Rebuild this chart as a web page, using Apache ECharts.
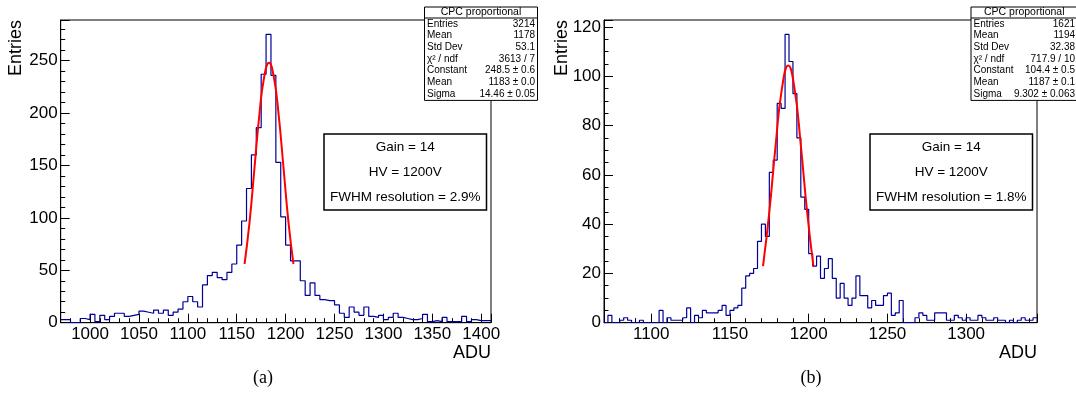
<!DOCTYPE html>
<html>
<head>
<meta charset="utf-8">
<script src="https://cdn.jsdelivr.net/npm/echarts@6/dist/echarts.min.js"></script>
<style>
html, body { margin: 0; padding: 0; background: #fff; }
#chart { width: 1076px; height: 412px; }
</style>
</head>
<body>
<div id="chart"></div>
<script>
const FONT = 'Liberation Sans';

// panel (a): 5 ADU bins starting at 970
const binStartA = 970;
const binWidthA = 5;
const countsA = [
    3, 3, 0, 0, 4, 3, 8, 1, 7, 3,
    6, 9, 9, 6, 7, 8, 11, 10, 9, 12,
    9, 12, 7, 10, 13, 20, 25, 20, 15, 36,
    45, 48, 43, 41, 48, 56, 74, 97, 128, 160,
    186, 237, 275, 236, 153, 101, 74, 59, 59, 40,
    26, 38, 26, 22, 21, 21, 17, 9, 5, 15,
    10, 7, 15, 6, 5, 7, 3, 5, 9, 5,
    4, 3, 3, 4, 8, 1, 2, 1, 5, 1,
    1, 1, 6, 1, 3, 2, 2, 2
];
// red fit curve
const fitXA = [1158, 1163, 1168, 1173, 1178, 1183, 1188, 1193, 1198, 1203, 1208];
const fitYA = [56, 95, 146, 197, 234, 248, 234, 197, 146, 95, 56];

// panel (b): 2.5 ADU bins starting at 1070
const binStartB = 1070;
const binWidthB = 2.5;
const countsB = [
    0, 3, 0, 0, 1, 2, 1, 0, 0, 1,
    0, 0, 0, 0, 5, 0, 2, 1, 1, 1,
    2, 6, 0, 3, 2, 5, 4, 4, 4, 5,
    7, 3, 5, 6, 7, 14, 19, 20, 22, 33,
    40, 35, 61, 66, 89, 87, 117, 106, 93, 75,
    51, 46, 28, 23, 27, 18, 22, 26, 18, 10,
    16, 10, 7, 10, 19, 11, 11, 6, 9, 7,
    7, 11, 12, 3, 4, 9, 0, 0, 0, 2,
    4, 3, 1, 1, 4, 4, 4, 1, 1, 3,
    2, 1, 2, 1, 1, 3, 2, 1, 1, 2,
    1, 1, 0, 1, 0, 1, 2, 1, 1, 2
];
const fitXB = [1171, 1175, 1179, 1183, 1187, 1191, 1195, 1199, 1203];
const fitYB = [23, 45, 72, 95, 104.4, 95, 72, 45, 23];

const statLabels = ['Entries', 'Mean', 'Std Dev', 'χ² / ndf', 'Constant', 'Mean', 'Sigma'];
const statsA = ['3214', '1178', '53.1', '3613 / 7', '248.5 ± 0.6', '1183 ± 0.0', '14.46 ± 0.05'];
const statsB = ['1621', '1194', '32.38', '717.9 / 10', '104.4 ± 0.5', '1187 ± 0.1', '9.302 ± 0.063'];
const infoA = ['Gain = 14', 'HV = 1200V', 'FWHM resolution = 2.9%'];
const infoB = ['Gain = 14', 'HV = 1200V', 'FWHM resolution = 1.8%'];

function histPoints(start, width, counts) {
    const pts = counts.map((c, i) => [start + i * width, c]);
    pts.push([start + counts.length * width, counts[counts.length - 1]]);
    return pts;
}

function xAxisCfg(gridIndex, min, max, splitNumber) {
    return {
        type: 'value', gridIndex: gridIndex, min: min, max: max, splitNumber: splitNumber,
        name: 'ADU', nameLocation: 'end', nameGap: 0,
        nameTextStyle: { color: '#000', fontSize: 18, fontFamily: FONT, align: 'right', verticalAlign: 'top', padding: [21, 0, 0, 0] },
        axisLine: { show: true, lineStyle: { color: '#000', width: 1 } },
        axisTick: { inside: true, length: 9, lineStyle: { color: '#000' } },
        minorTick: { show: true, splitNumber: 5, length: 4.5, lineStyle: { color: '#000' } },
        axisLabel: { color: '#000', fontSize: 17, fontFamily: FONT, margin: 3, showMinLabel: false, showMaxLabel: false,
            formatter: v => String(v) },
        splitLine: { show: false }
    };
}

function yAxisCfg(gridIndex, max, interval, minorSplit) {
    return {
        type: 'value', gridIndex: gridIndex, min: 0, max: max, interval: interval,
        axisLine: { show: true, lineStyle: { color: '#000', width: 1 } },
        axisTick: { inside: true, length: 9, lineStyle: { color: '#000' } },
        minorTick: { show: true, splitNumber: minorSplit, length: 4.5, lineStyle: { color: '#000' } },
        axisLabel: { color: '#000', fontSize: 17, fontFamily: FONT, margin: 3, showMaxLabel: false,
            formatter: v => String(v) },
        splitLine: { show: false }
    };
}

function statsBox(x, y, w, labels, values) {
    const rowH = 11.7;
    const els = [
        { type: 'rect', shape: { x: x, y: y, width: w, height: 11 + rowH * 7 + 0.5 },
          style: { fill: '#fff', stroke: '#000', lineWidth: 1 } },
        { type: 'line', shape: { x1: x, y1: y + 11, x2: x + w, y2: y + 11 },
          style: { stroke: '#000', lineWidth: 1 } },
        { type: 'text', x: x + w / 2, y: y + 5.5,
          style: { text: 'CPC proportional', fill: '#000', font: '10.5px ' + FONT, align: 'center', verticalAlign: 'middle' } }
    ];
    labels.forEach((lab, i) => {
        const cy = y + 11 + rowH * (i + 0.5);
        els.push({ type: 'text', x: x + 2.5, y: cy,
            style: { text: lab, fill: '#000', font: '10px ' + FONT, align: 'left', verticalAlign: 'middle' } });
        els.push({ type: 'text', x: x + w - 2.5, y: cy,
            style: { text: values[i], fill: '#000', font: '10px ' + FONT, align: 'right', verticalAlign: 'middle' } });
    });
    return els;
}

function infoBox(x, y, w, h, lines) {
    const els = [
        { type: 'rect', shape: { x: x, y: y, width: w, height: h },
          style: { fill: '#fff', stroke: '#000', lineWidth: 1.5 } }
    ];
    lines.forEach((t, i) => {
        els.push({ type: 'text', x: x + w / 2, y: y + 13.5 + i * 25,
            style: { text: t, fill: '#000', font: '13.5px ' + FONT, align: 'center', verticalAlign: 'middle' } });
    });
    return els;
}

function yTitle(x) {
    return { type: 'text', x: x, y: 20, rotation: Math.PI / 2,
        style: { text: 'Entries', fill: '#000', font: '18px ' + FONT, align: 'right', verticalAlign: 'top' } };
}

const chart = echarts.init(document.getElementById('chart'), null, { renderer: 'canvas' });

const option = {
    backgroundColor: '#fff',
    animation: false,
    grid: [
        { left: 60.7, top: 20, width: 430.3, height: 302.7, show: true, borderColor: '#000', borderWidth: 1 },
        { left: 604, top: 20, width: 433, height: 302.7, show: true, borderColor: '#000', borderWidth: 1 }
    ],
    xAxis: [
        xAxisCfg(0, 970, 1410, 9),
        xAxisCfg(1, 1070, 1345, 5)
    ],
    yAxis: [
        yAxisCfg(0, 288.75, 50, 5),
        yAxisCfg(1, 122.85, 20, 4)
    ],
    series: [
        {
            type: 'line', xAxisIndex: 0, yAxisIndex: 0, step: 'end', showSymbol: false,
            data: histPoints(binStartA, binWidthA, countsA),
            lineStyle: { color: '#000099', width: 1.2 }, z: 2
        },
        {
            type: 'line', xAxisIndex: 0, yAxisIndex: 0, smooth: true, showSymbol: false,
            data: fitXA.map((x, i) => [x, fitYA[i]]),
            lineStyle: { color: '#ff0000', width: 2 }, z: 3
        },
        {
            type: 'line', xAxisIndex: 1, yAxisIndex: 1, step: 'end', showSymbol: false,
            data: histPoints(binStartB, binWidthB, countsB),
            lineStyle: { color: '#000099', width: 1.2 }, z: 2
        },
        {
            type: 'line', xAxisIndex: 1, yAxisIndex: 1, smooth: true, showSymbol: false,
            data: fitXB.map((x, i) => [x, fitYB[i]]),
            lineStyle: { color: '#ff0000', width: 2 }, z: 3
        }
    ],
    graphic: [].concat(
        [yTitle(7), yTitle(553)],
        statsBox(424.5, 7, 113, statLabels, statsA),
        statsBox(971, 7, 106.5, statLabels, statsB),
        infoBox(324, 134, 162.5, 76, infoA),
        infoBox(870, 134, 162.5, 76, infoB),
        [
            { type: 'text', x: 263, y: 378, style: { text: '(a)', fill: '#000', font: '18px Liberation Serif', align: 'center', verticalAlign: 'middle' } },
            { type: 'text', x: 811, y: 378, style: { text: '(b)', fill: '#000', font: '18px Liberation Serif', align: 'center', verticalAlign: 'middle' } }
        ]
    )
};

chart.setOption(option);
</script>
</body>
</html>
